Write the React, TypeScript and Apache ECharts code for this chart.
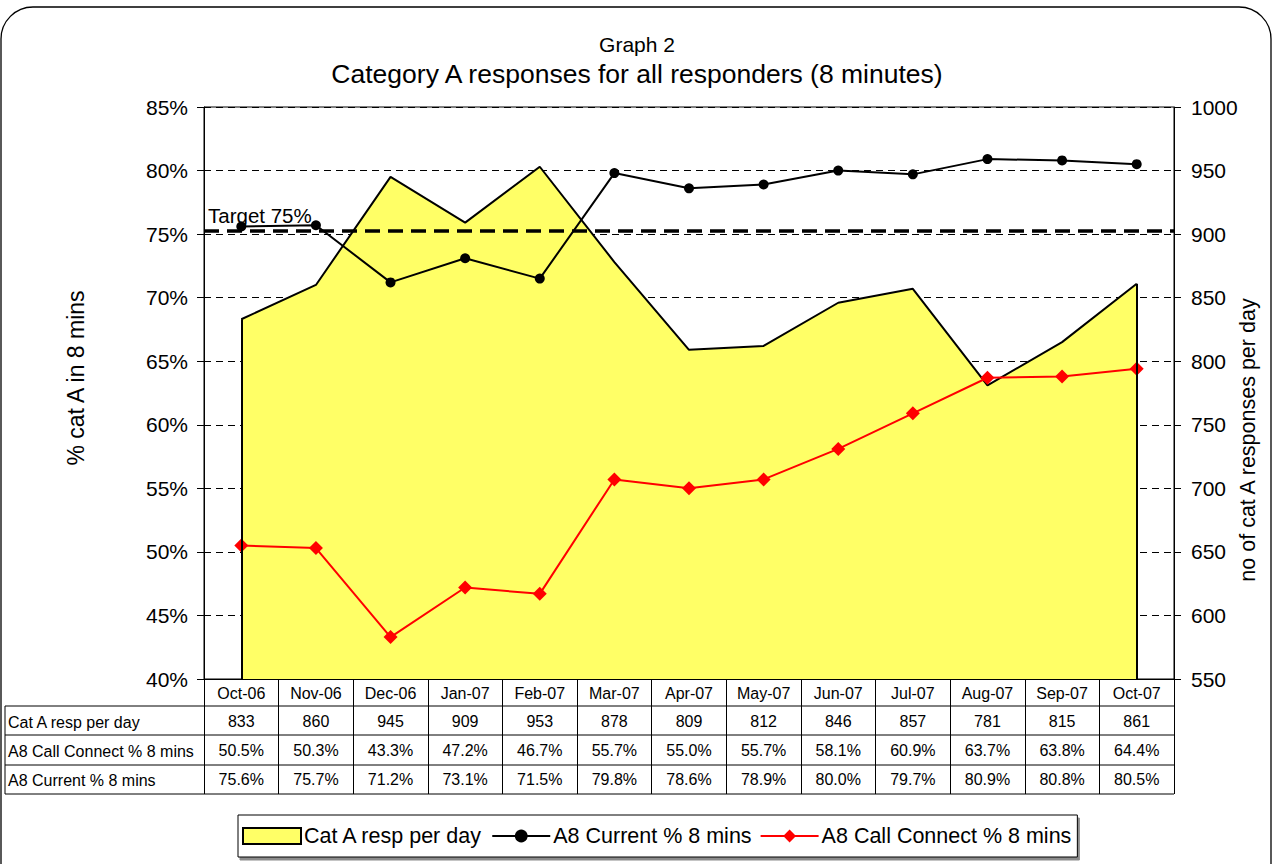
import React, { useEffect, useRef } from "react";
import * as echarts from "echarts";

const categories = ["Oct-06", "Nov-06", "Dec-06", "Jan-07", "Feb-07", "Mar-07", "Apr-07", "May-07", "Jun-07", "Jul-07", "Aug-07", "Sep-07", "Oct-07"];
const catAResp = [833, 860, 945, 909, 953, 878, 809, 812, 846, 857, 781, 815, 861];
const callConnect = [50.5, 50.3, 43.3, 47.2, 46.7, 55.7, 55.0, 55.7, 58.1, 60.9, 63.7, 63.8, 64.4];
const current = [75.6, 75.7, 71.2, 73.1, 71.5, 79.8, 78.6, 78.9, 80.0, 79.7, 80.9, 80.8, 80.5];
const targetValue = 75.3;
const tableRowLabels = ["Cat A resp per day", "A8 Call Connect % 8 mins", "A8 Current % 8 mins"];

const FONT = "'Liberation Sans', Arial, sans-serif";
const GRID_LEFT = 204;
const GRID_RIGHT_X = 1174;
const GRID_TOP = 107;
const GRID_BOTTOM_Y = 679;

export default function App() {
  const ref = useRef<HTMLDivElement>(null);
  useEffect(() => {
    if (!ref.current) return;
    const chart = echarts.init(ref.current, null, { renderer: "svg" });
    const colW = (GRID_RIGHT_X - GRID_LEFT) / categories.length;
    const rowLines = [706, 735, 765, 794];
    const rowCenters = [721, 750, 779.5];
    const rows = [
      catAResp.map((v) => String(v)),
      callConnect.map((v) => v.toFixed(1) + "%"),
      current.map((v) => v.toFixed(1) + "%"),
    ];
    const graphics: any[] = [
      {
        type: "rect",
        shape: { x: 1, y: 7, width: 1270, height: 890, r: 32 },
        style: { fill: "none", stroke: "#000", lineWidth: 1.3 },
        silent: true,
      },
      {
        type: "text",
        x: 637,
        y: 44,
        style: { text: "Graph 2", font: `21px ${FONT}`, fill: "#000", align: "center", verticalAlign: "middle" },
      },
      {
        type: "text",
        x: 637,
        y: 74,
        style: { text: "Category A responses for all responders (8 minutes)", font: `26.5px ${FONT}`, fill: "#000", align: "center", verticalAlign: "middle" },
      },
      {
        type: "text",
        x: 76,
        y: 378,
        rotation: Math.PI / 2,
        style: { text: "% cat A in 8 mins", font: `23px ${FONT}`, fill: "#000", align: "center", verticalAlign: "middle" },
      },
      {
        type: "text",
        x: 1248,
        y: 440,
        rotation: Math.PI / 2,
        style: { text: "no of cat A responses per day", font: `21.5px ${FONT}`, fill: "#000", align: "center", verticalAlign: "middle" },
      },
      {
        type: "text",
        x: 208,
        y: 215,
        style: { text: "Target 75%", font: `20.5px ${FONT}`, fill: "#000", align: "left", verticalAlign: "middle" },
      },
    ];
    rowLines.forEach((y) => {
      graphics.push({
        type: "line",
        shape: { x1: 5, y1: y, x2: GRID_RIGHT_X, y2: y },
        style: { stroke: "#000", lineWidth: 1 },
        silent: true,
      });
    });
    graphics.push({
      type: "line",
      shape: { x1: 5, y1: rowLines[0], x2: 5, y2: rowLines[3] },
      style: { stroke: "#000", lineWidth: 1 },
      silent: true,
    });
    tableRowLabels.forEach((label, r) => {
      graphics.push({
        type: "text",
        x: 8,
        y: rowCenters[r] + 1,
        style: { text: label, font: `16px ${FONT}`, fill: "#000", align: "left", verticalAlign: "middle" },
      });
      rows[r].forEach((txt, i) => {
        graphics.push({
          type: "text",
          x: GRID_LEFT + colW * (i + 0.5),
          y: rowCenters[r],
          style: { text: txt, font: `16px ${FONT}`, fill: "#000", align: "center", verticalAlign: "middle" },
        });
      });
    });

    chart.setOption({
      animation: false,
      backgroundColor: "#fff",
      textStyle: { fontFamily: FONT },
      grid: {
        left: GRID_LEFT,
        top: GRID_TOP,
        width: GRID_RIGHT_X - GRID_LEFT,
        height: GRID_BOTTOM_Y - GRID_TOP,
        show: true,
        borderColor: "#000",
        borderWidth: 1,
        backgroundColor: "transparent",
      },
      legend: {
        left: 238,
        top: 815,
        height: 22,
        orient: "horizontal",
        padding: [10, 6, 10, 4],
        itemGap: 8,
        itemWidth: 58,
        itemHeight: 16,
        backgroundColor: "#fff",
        borderColor: "#000",
        borderWidth: 1,
        shadowColor: "rgba(0,0,0,0.45)",
        shadowOffsetX: 2,
        shadowOffsetY: 3,
        shadowBlur: 0,
        textStyle: { fontSize: 21.5, color: "#000", fontFamily: FONT, padding: [0, 0, 0, -2] },
        data: [
          { name: "Cat A resp per day", icon: "rect", itemStyle: { color: "#FFFF66", borderColor: "#000", borderWidth: 2 } },
          { name: "A8 Current % 8 mins" },
          { name: "A8 Call Connect % 8 mins" },
        ],
      },
      xAxis: {
        type: "category",
        data: categories,
        boundaryGap: true,
        axisLine: { show: true, lineStyle: { color: "#000", width: 1 } },
        axisTick: { show: true, length: 115, interval: 0, lineStyle: { color: "#000", width: 1 } },
        axisLabel: { interval: 0, margin: 6, fontSize: 16, color: "#000", fontFamily: FONT },
        splitLine: { show: false },
      },
      yAxis: [
        {
          type: "value",
          min: 40,
          max: 85,
          interval: 5,
          position: "left",
          axisLine: { show: true, lineStyle: { color: "#000" } },
          axisTick: { show: true, length: 7, lineStyle: { color: "#000" } },
          axisLabel: { formatter: "{value}%", fontSize: 21, color: "#000", margin: 16, fontFamily: FONT },
          splitLine: { show: true, lineStyle: { color: "#000", type: [7, 5], width: 1 } },
        },
        {
          type: "value",
          min: 550,
          max: 1000,
          interval: 50,
          position: "right",
          axisLine: { show: true, lineStyle: { color: "#000" } },
          axisTick: { show: true, length: 7, lineStyle: { color: "#000" } },
          axisLabel: { formatter: (v: number) => String(v), fontSize: 21, color: "#000", margin: 17, fontFamily: FONT },
          splitLine: { show: false },
        },
      ],
      series: [
        {
          name: "Cat A resp per day",
          type: "line",
          yAxisIndex: 1,
          data: catAResp,
          symbol: "none",
          lineStyle: { color: "#000", width: 2 },
          itemStyle: { color: "#FFFF66", borderColor: "#000" },
          areaStyle: { color: "#FFFF66", opacity: 1, origin: "start" },
          z: 1,
          markLine: {
            silent: true,
            symbol: "none",
            label: { show: false },
            lineStyle: { color: "#000", type: "solid", width: 2 },
            data: [
              [{ coord: [categories[0], catAResp[0]] }, { coord: [categories[0], 550] }],
              [
                { coord: [categories[categories.length - 1], catAResp[catAResp.length - 1]] },
                { coord: [categories[categories.length - 1], 550] },
              ],
            ],
          },
        },
        {
          name: "A8 Current % 8 mins",
          type: "line",
          yAxisIndex: 0,
          data: current,
          symbol: "circle",
          symbolSize: 10,
          lineStyle: { color: "#000", width: 2 },
          itemStyle: { color: "#000" },
          z: 3,
          markLine: {
            silent: true,
            symbol: "none",
            label: { show: false },
            lineStyle: { color: "#000", type: [15, 8], width: 3.5 },
            data: [{ yAxis: targetValue }],
            z: 4,
          },
        },
        {
          name: "A8 Call Connect % 8 mins",
          type: "line",
          yAxisIndex: 0,
          data: callConnect,
          symbol: "diamond",
          symbolSize: 14,
          lineStyle: { color: "#FF0000", width: 2 },
          itemStyle: { color: "#FF0000" },
          z: 3,
        },
      ],
      graphic: graphics,
    });
    return () => chart.dispose();
  }, []);
  return <div ref={ref} style={{ position: "absolute", left: 0, top: 0, width: 1273, height: 864 }} />;
}
